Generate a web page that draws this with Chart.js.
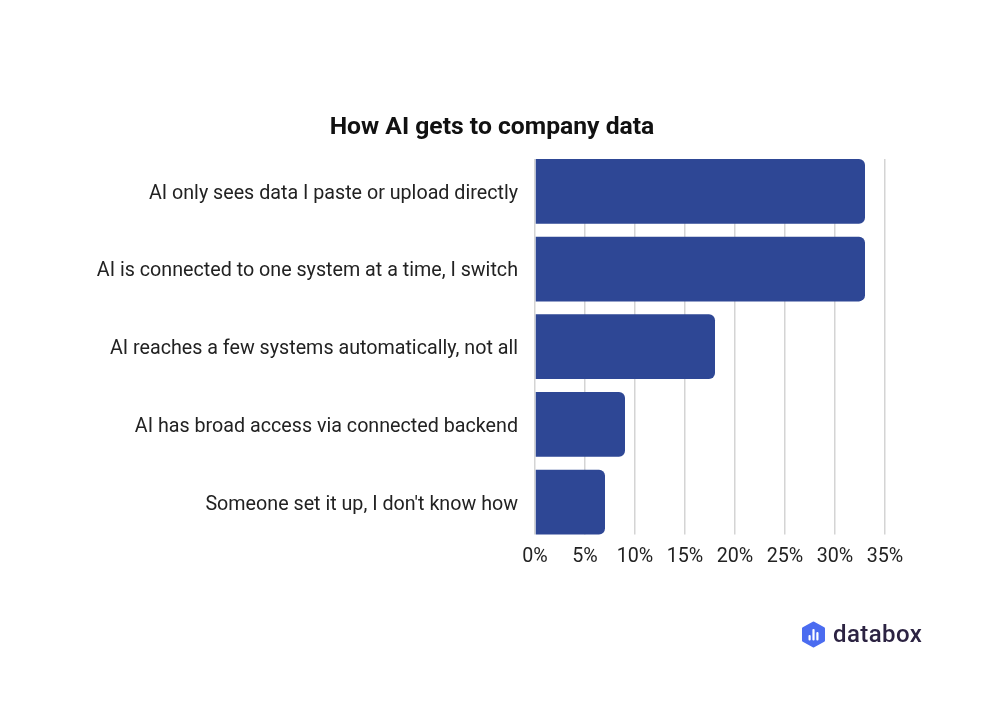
<!DOCTYPE html>
<html>
<head>
<meta charset="utf-8">
<script src="https://cdn.jsdelivr.net/npm/chart.js@4.4.1/dist/chart.umd.min.js"></script>
<style>
  html, body { margin: 0; padding: 0; background: #fff; }
  #wrap { position: relative; width: 1000px; height: 707px; }
  #logo { position: absolute; left: 801px; top: 621px; height: 27px; display: flex; align-items: center; }
  #logo span { font-family: Roboto, sans-serif; font-size: 24px; font-weight: 500; color: #2c2342; margin-left: 7px; letter-spacing: 0.4px; line-height: 27px; }
</style>
</head>
<body>
<div id="wrap">
  <canvas id="myChart" width="1000" height="707"></canvas>
  <div id="logo">
    <svg width="25" height="27" viewBox="0 0 25 27">
      <path d="M12.5 2 L22.5 7.5 L22.5 19.5 L12.5 25 L2.5 19.5 L2.5 7.5 Z" fill="#4b6cf0" stroke="#4b6cf0" stroke-width="3" stroke-linejoin="round"/>
      <rect x="7.5" y="14" width="2.2" height="5.5" fill="#fff" rx="1"/>
      <rect x="11.4" y="8" width="2.2" height="11.5" fill="#fff" rx="1"/>
      <rect x="15.3" y="11" width="2.2" height="8.5" fill="#fff" rx="1"/>
    </svg>
    <span>databox</span>
  </div>
</div>
<script>
const categories = [
  'AI only sees data I paste or upload directly',
  'AI is connected to one system at a time, I switch',
  'AI reaches a few systems automatically, not all',
  'AI has broad access via connected backend',
  "Someone set it up, I don't know how"
];
const shares = [33, 33, 18, 9, 7]; // percent of respondents
const xTicks = [0, 5, 10, 15, 20, 25, 30, 35];

const barPct = 0.833;

// vertical gridlines only span from the top of the first bar to the bottom of the last one
const clipGrid = {
  id: 'clipGrid',
  afterLayout(chart) {
    const sx = chart.scales.x;
    if (sx._clipped) return;
    const orig = sx.drawGrid.bind(sx);
    sx.drawGrid = function (area) {
      const a = chart.chartArea;
      const half = (1 - barPct) * (a.bottom - a.top) / categories.length / 2;
      const c = chart.ctx;
      c.save();
      c.beginPath();
      c.rect(0, a.top + half, chart.width, a.bottom - a.top - 2 * half);
      c.clip();
      orig(area);
      c.restore();
    };
    sx._clipped = true;
  }
};

const ctx = document.getElementById('myChart');
new Chart(ctx, {
  type: 'bar',
  data: {
    labels: categories,
    datasets: [{
      data: shares,
      backgroundColor: '#2e4795',
      borderRadius: 6,
      barPercentage: barPct,
      categoryPercentage: 1
    }]
  },
  options: {
    indexAxis: 'y',
    responsive: false,
    animation: false,
    layout: { padding: { left: 79, right: 95, top: 0, bottom: 126 } },
    scales: {
      x: {
        min: 0,
        max: 35,
        afterBuildTicks: axis => { axis.ticks = xTicks.map(v => ({ value: v })); },
        afterFit: axis => { axis.height = 40; },
        grid: { color: '#d4d4d4', lineWidth: 1.5, drawTicks: false },
        border: { display: false },
        ticks: {
          padding: 4,
          color: '#222',
          font: { family: 'Roboto', size: 19.7 },
          callback: v => v + '%'
        }
      },
      y: {
        afterFit: axis => { axis.width = 456; },
        grid: { display: false, drawTicks: false },
        border: { display: false },
        ticks: {
          padding: 17,
          labelOffset: 2.5,
          color: '#222',
          font: { family: 'Roboto', size: 19.7 }
        }
      },
      // empty spacer on the right so the title sits where it does in the original
      spacer: {
        axis: 'y',
        position: 'right',
        afterFit: axis => { axis.width = 20; },
        grid: { display: false, drawTicks: false },
        border: { display: false },
        ticks: { display: false }
      }
    },
    plugins: {
      legend: { display: false },
      tooltip: { enabled: false },
      title: {
        display: true,
        text: 'How AI gets to company data',
        color: '#111',
        font: { family: 'Roboto', size: 24.7, weight: 'bold' },
        padding: { top: 113, bottom: 9.8 }
      }
    }
  },
  plugins: [clipGrid]
});
</script>
</body>
</html>
